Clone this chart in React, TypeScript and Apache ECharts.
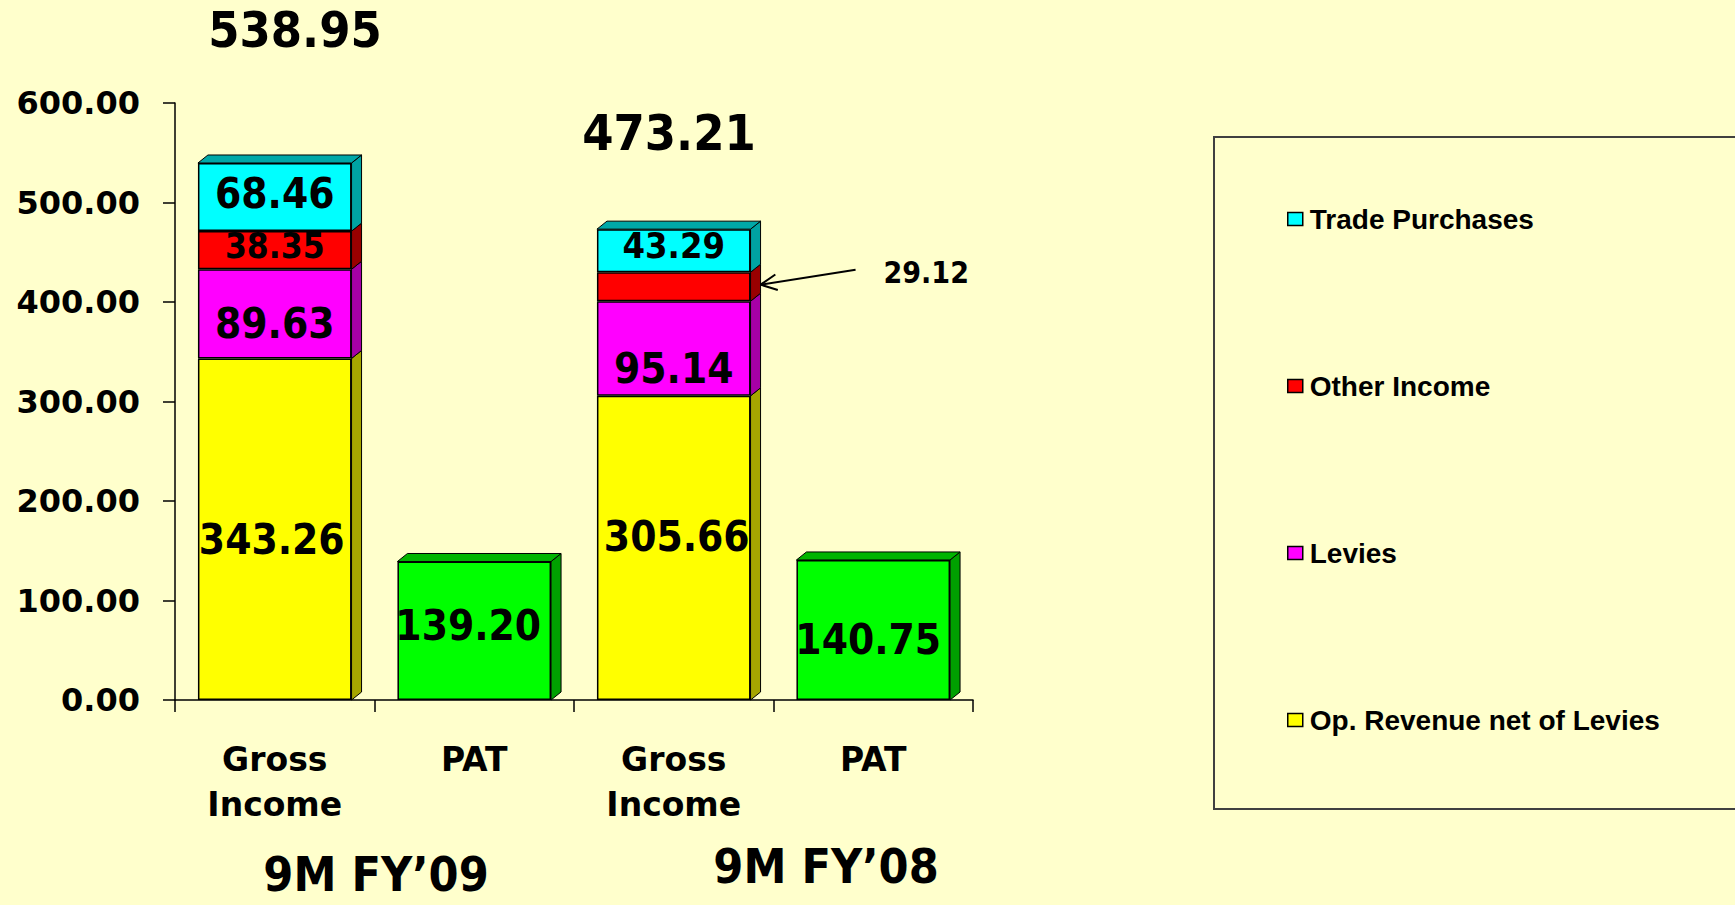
import React, { useEffect, useRef } from "react";
import * as echarts from "echarts";

// ---------- data ----------
const categories = ["Gross Income FY09", "PAT FY09", "Gross Income FY08", "PAT FY08"];
const categoryLabels = ["Gross\nIncome", "PAT", "Gross\nIncome", "PAT"];
const opRevenue = [343.26, null, 305.66, null];
const levies = [89.63, null, 95.14, null];
const otherIncome = [38.35, null, 29.12, null];
const tradePurchases = [68.46, null, 43.29, null];
const pat = [null, 139.2, null, 140.75];
const totalLabels = ["538.95", "473.21"];
const periodLabels = ["9M FY’09", "9M FY’08"];
const legendOrder = ["Trade Purchases", "Other Income", "Levies", "Op. Revenue net of Levies"];
const yMin = 0;
const yMax = 600;
const yInterval = 100;

// ---------- styles ----------
const NUM_FONT = "'DejaVu Sans Condensed', 'DejaVu Sans', sans-serif";
const AXIS_FONT = "'DejaVu Sans', sans-serif";
const LEGEND_FONT = "'Liberation Sans', Arial, sans-serif";
const BAR_FRAC = 0.77;
const DX = 10;
const DY = 8;

const stacks = [
  { name: "Op. Revenue net of Levies", values: opRevenue, color: "#FFFF00", side: "#A6A600", topC: "#B5B500" },
  { name: "Levies", values: levies, color: "#FF00FF", side: "#A600A6", topC: "#B000B0" },
  { name: "Other Income", values: otherIncome, color: "#FF0000", side: "#990000", topC: "#A00000" },
  { name: "Trade Purchases", values: tradePurchases, color: "#00FFFF", side: "#00A3A3", topC: "#00A8A8" },
  { name: "PAT", values: pat, color: "#00FF00", side: "#00A000", topC: "#00B400" },
];

// per-series, per-category label styling: [fontSize, dx, dy] (0 size => hidden)
const labelStyles: Record<string, ([number, number, number] | null)[]> = {
  "Op. Revenue net of Levies": [[42, -3, 10], null, [42, 3, -11], null],
  Levies: [[42, 0, 10], null, [42, 0, 20], null],
  "Other Income": [[35, 0, -4], null, [0, 0, 0], null],
  "Trade Purchases": [[42, 0, -4], null, [36, 0, -5], null],
  PAT: [null, [42, -6, -5], null, [42, -5, 10]],
};

export default function App() {
  const ref = useRef<HTMLDivElement>(null);

  useEffect(() => {
    if (!ref.current) return;
    const chart = echarts.init(ref.current, undefined, { renderer: "svg" });

    const barSeries = stacks.map((s) => ({
      name: s.name,
      type: "bar",
      stack: "total",
      barWidth: BAR_FRAC * 100 + "%",
      itemStyle: { color: s.color, borderColor: "#000", borderWidth: 1.5 },
      data: s.values.map((v, i) => {
        if (v == null) return "-";
        const ls = labelStyles[s.name][i];
        return {
          value: v,
          label: ls && ls[0] > 0
            ? { show: true, fontSize: ls[0], offset: [ls[1], ls[2]] }
            : { show: false },
        };
      }),
      label: {
        show: true,
        position: "inside",
        color: "#000",
        fontFamily: NUM_FONT,
        fontWeight: "bold",
        formatter: (p: any) => Number(p.value).toFixed(2),
      },
      z: 2,
    }));

    // depth faces built from the same data
    const depthData: any[] = [];
    categories.forEach((_, i) => {
      let cum = 0;
      const items: any[] = [];
      stacks.forEach((s, si) => {
        const v = s.values[i];
        if (v == null) return;
        items.push([i, cum, cum + v, si, 0]);
        cum += v;
      });
      if (items.length) items[items.length - 1][4] = 1;
      depthData.push(...items);
    });

    const depthSeries = {
      type: "custom",
      name: "depth",
      silent: true,
      z: 3,
      encode: { x: 0, y: [1, 2] },
      data: depthData,
      renderItem: (params: any, api: any) => {
        const i = api.value(0);
        const lo = api.value(1);
        const hi = api.value(2);
        const si = api.value(3);
        const isTop = api.value(4);
        const pHi = api.coord([i, hi]);
        const pLo = api.coord([i, lo]);
        const bw = api.size([1, 0])[0] * BAR_FRAC;
        const xl = pHi[0] - bw / 2;
        const xr = pHi[0] + bw / 2;
        const s = stacks[si];
        const children: any[] = [
          {
            type: "polygon",
            shape: { points: [[xr, pHi[1]], [xr + DX, pHi[1] - DY], [xr + DX, pLo[1] - DY], [xr, pLo[1]]] },
            style: { fill: s.side, stroke: "#000", lineWidth: 1 },
          },
        ];
        if (isTop) {
          children.push({
            type: "polygon",
            shape: { points: [[xl, pHi[1]], [xl + DX, pHi[1] - DY], [xr + DX, pHi[1] - DY], [xr, pHi[1]]] },
            style: { fill: s.topC, stroke: "#000", lineWidth: 1 },
          });
        }
        return { type: "group", children };
      },
    };

    const option: any = {
      animation: false,
      backgroundColor: "#FFFFCC",
      grid: { left: 175, top: 103, width: 798, height: 597, containLabel: false },
      legend: {
        orient: "vertical",
        left: 1282,
        top: 200,
        itemGap: 139,
        itemWidth: 15,
        itemHeight: 13,
        icon: "rect",
        data: legendOrder,
        itemStyle: { borderColor: "#000", borderWidth: 1.5 },
        textStyle: { fontFamily: LEGEND_FONT, fontWeight: "bold", fontSize: 28, color: "#000", padding: [0, 0, 0, 2] },
        selectedMode: false,
      },
      xAxis: {
        type: "category",
        data: categories,
        axisLine: { lineStyle: { color: "#000", width: 1.5 } },
        axisTick: { show: true, length: 12, lineStyle: { color: "#000", width: 1.5 } },
        axisLabel: {
          interval: 0,
          formatter: (_v: string, i: number) => categoryLabels[i],
          fontFamily: AXIS_FONT,
          fontWeight: "bold",
          fontSize: 33,
          lineHeight: 45,
          margin: 37,
          color: "#000",
        },
        splitLine: { show: false },
      },
      yAxis: {
        type: "value",
        min: yMin,
        max: yMax,
        interval: yInterval,
        axisLine: { show: true, lineStyle: { color: "#000", width: 1.5 } },
        axisTick: { show: true, length: 12, lineStyle: { color: "#000", width: 1.5 } },
        axisLabel: {
          formatter: (v: number) => v.toFixed(2),
          fontFamily: AXIS_FONT,
          fontWeight: "bold",
          fontSize: 32,
          margin: 35,
          color: "#000",
        },
        splitLine: { show: false },
      },
      series: [...barSeries, depthSeries],
    };
    chart.setOption(option);

    // annotations
    const redIdx = 2;
    const midY = (opRevenue[redIdx] as number) + (levies[redIdx] as number) + (otherIncome[redIdx] as number) / 2;
    const tip = chart.convertToPixel({ gridIndex: 0 }, [redIdx, midY]) as number[];
    const band = chart.convertToPixel({ gridIndex: 0 }, [1, 0])[0] - chart.convertToPixel({ gridIndex: 0 }, [0, 0])[0];
    const tx = tip[0] + (band * BAR_FRAC) / 2 + DX;
    const ty = tip[1] - 2;
    const sx = tx + 95;
    const sy = ty - 15;
    const ang = Math.atan2(sy - ty, sx - tx);
    const head = 18;
    const spread = 0.45;

    chart.setOption({
      graphic: [
        {
          type: "rect",
          shape: { x: 1214, y: 137, width: 560, height: 672 },
          style: { fill: "transparent", stroke: "#404040", lineWidth: 2 },
          silent: true,
        },
        {
          type: "text",
          x: 295,
          y: 30,
          style: { text: totalLabels[0], font: `bold 50px ${NUM_FONT}`, fill: "#000", align: "center", verticalAlign: "middle" },
        },
        {
          type: "text",
          x: 669,
          y: 133,
          style: { text: totalLabels[1], font: `bold 50px ${NUM_FONT}`, fill: "#000", align: "center", verticalAlign: "middle" },
        },
        {
          type: "text",
          x: 376,
          y: 874,
          style: { text: periodLabels[0], font: `bold 48px ${NUM_FONT}`, fill: "#000", align: "center", verticalAlign: "middle" },
        },
        {
          type: "text",
          x: 826,
          y: 866,
          style: { text: periodLabels[1], font: `bold 48px ${NUM_FONT}`, fill: "#000", align: "center", verticalAlign: "middle" },
        },
        {
          type: "text",
          x: sx + 28,
          y: sy + 3,
          style: { text: (otherIncome[redIdx] as number).toFixed(2), font: `bold 30px ${NUM_FONT}`, fill: "#000", align: "left", verticalAlign: "middle" },
        },
        {
          type: "polyline",
          shape: { points: [[sx, sy], [tx, ty]] },
          style: { stroke: "#000", lineWidth: 2 },
        },
        {
          type: "polyline",
          shape: {
            points: [
              [tx + head * Math.cos(ang - spread), ty + head * Math.sin(ang - spread)],
              [tx, ty],
              [tx + head * Math.cos(ang + spread), ty + head * Math.sin(ang + spread)],
            ],
          },
          style: { stroke: "#000", lineWidth: 2, fill: "none" },
        },
      ],
    });

    return () => chart.dispose();
  }, []);

  return (
    <div
      ref={ref}
      style={{ position: "fixed", left: 0, top: 0, width: 1735, height: 905, background: "#FFFFCC" }}
    />
  );
}
